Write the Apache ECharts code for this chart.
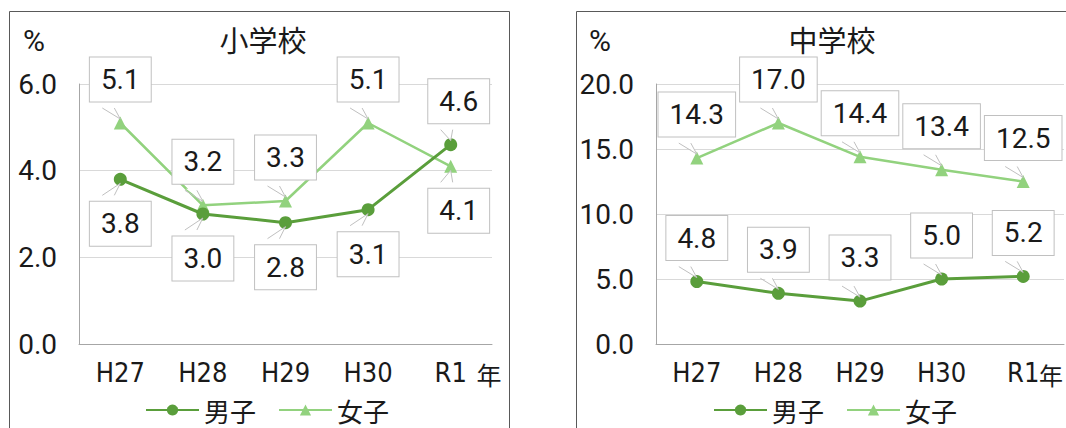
<!DOCTYPE html>
<html><head><meta charset="utf-8">
<script src="https://cdn.jsdelivr.net/npm/echarts@6/dist/echarts.min.js"></script>
<style>html,body{margin:0;padding:0;background:#fff}#c{width:1066px;height:428px}</style>
</head><body><div id="c"></div>
<script>
const categories = ['H27','H28','H29','H30','R1'];
const elemBoys  = [3.8, 3.0, 2.8, 3.1, 4.6];
const elemGirls = [5.1, 3.2, 3.3, 5.1, 4.1];
const juniorBoys  = [4.8, 3.9, 3.3, 5.0, 5.2];
const juniorGirls = [14.3, 17.0, 14.4, 13.4, 12.5];
const elemTicks = [0, 6, 2];
const juniorTicks = [0, 20, 5];

// label placement (style only)
const elemBoysPos  = ['bottom','bottom','bottom','bottom','top'];
const elemGirlsPos = ['top','top','top','top','bottom'];
const allTop = ['top','top','top','top','top'];
const elemShift = [0,0,0,0,8];
const noShift = [0,0,0,0,0];

const NUM_FONT = '"DejaVu Sans Condensed","Roboto","Noto Sans",sans-serif';
const LBL_FONT = '"Roboto","Noto Sans",sans-serif';
const JP_FONT = '"Noto Sans CJK JP","Noto Sans",sans-serif';
const BOY = '#5a9e3b', GIRL = '#92d27e';
const BOX = '#c0c0c0';
const DIST_TOP = 15, DIST_BOTTOM = 16;

function mkData(vals, pos, xoff){
  return vals.map((v,i)=>{
    const p = pos[i];
    return {value:v, label:{position:p, distance: p==='top'?DIST_TOP:DIST_BOTTOM, offset:[xoff[i], 0]}};
  });
}
const labelStyle = {
  show:true, formatter:p=>p.value.toFixed(1), fontFamily:LBL_FONT, fontSize:28, lineHeight:28,
  color:'#1a1a1a', backgroundColor:'#fff', borderColor:BOX, borderWidth:1, padding:[8,11]
};

function series(name, vals, color, sym, xi, pos, xoff){
  return {
    name, type:'line', xAxisIndex:xi, yAxisIndex:xi, data:mkData(vals,pos,xoff),
    symbol:sym, symbolSize:13, showSymbol:true,
    lineStyle:{color, width: sym==='circle'?3:2.5}, itemStyle:{color},
    label:labelStyle, z: sym==='circle'?3:2
  };
}
// callout tails drawn from the library's coordinates of each value
function tails(vals, xi, pos, xoff){
  return {
    type:'custom', xAxisIndex:xi, yAxisIndex:xi, z:6, silent:true,
    data: vals.map((v,i)=>[i,v]),
    renderItem(params, api){
      const i = api.value(0);
      const pt = api.coord([i, api.value(1)]);
      const top = pos[i]==='top';
      const cx = pt[0] + xoff[i];
      const by = top ? pt[1]-DIST_TOP : pt[1]+DIST_BOTTOM;
      const tipY = top ? pt[1]-4 : pt[1]+4;
      const x1 = cx-18, x2 = cx-6;
      const inner = top ? by-1.5 : by+1.5;
      return {type:'group', children:[
        {type:'polygon', shape:{points:[[x1+1,inner],[x2-1,inner],[pt[0],tipY]]}, style:{fill:'#fff', stroke:null}},
        {type:'polyline', shape:{points:[[x1,by],[pt[0],tipY],[x2,by]]}, style:{fill:null, stroke:BOX, lineWidth:1}}
      ]};
    }
  };
}
function yAxis(t, idx){
  return {type:'value', gridIndex:idx, min:t[0], max:t[1], interval:t[2],
    axisLine:{show:true, lineStyle:{color:'#a6a6a6'}}, axisTick:{show:false},
    splitLine:{lineStyle:{color:'#d9d9d9'}},
    axisLabel:{formatter:v=>v.toFixed(1), fontFamily:LBL_FONT, fontSize:28, color:'#1a1a1a', margin:22}};
}
function xAxis(i){
  return {type:'category', gridIndex:i, data:categories, boundaryGap:true,
    axisLine:{lineStyle:{color:'#a6a6a6'}}, axisTick:{show:false},
    axisLabel:{fontFamily:NUM_FONT, fontSize:27, color:'#1a1a1a', margin:15}};
}
function legend(left){
  return {left, top:392, itemWidth:53, itemHeight:14, itemGap:22, data:['男子','女子'],
    textStyle:{fontFamily:JP_FONT, fontSize:26, color:'#1a1a1a'}, selectedMode:false};
}
function txt(x, y, s, font){
  return {type:'text', x, y, style:{text:s, textAlign:'center', textVerticalAlign:'middle', font, fill:'#1a1a1a'}};
}
const chart = echarts.init(document.getElementById('c'), null, {renderer:'svg'});
chart.setOption({
  animation:false,
  grid:[{left:79, top:84, width:413, height:260},{left:656, top:84, width:408, height:260}],
  xAxis:[xAxis(0), xAxis(1)],
  yAxis:[yAxis(elemTicks,0), yAxis(juniorTicks,1)],
  legend:[legend(140), legend(708)],
  graphic:[
    {type:'rect', shape:{x:9.5,y:11.5,width:500,height:440}, style:{fill:'none', stroke:'#595959', lineWidth:1}, silent:true},
    {type:'rect', shape:{x:576.5,y:11.5,width:520,height:440}, style:{fill:'none', stroke:'#595959', lineWidth:1}, silent:true},
    txt(263, 39, '小学校', '29px '+JP_FONT),
    txt(832, 39, '中学校', '29px '+JP_FONT),
    txt(34, 40, '%', '30px '+LBL_FONT),
    txt(600, 40, '%', '30px '+LBL_FONT),
    txt(489, 374, '年', '25px '+JP_FONT),
    txt(1051, 374, '年', '24px '+JP_FONT)
  ],
  series:[
    series('男子', elemBoys, BOY, 'circle', 0, elemBoysPos, elemShift),
    series('女子', elemGirls, GIRL, 'triangle', 0, elemGirlsPos, elemShift),
    series('男子', juniorBoys, BOY, 'circle', 1, allTop, noShift),
    series('女子', juniorGirls, GIRL, 'triangle', 1, allTop, noShift),
    tails(elemBoys, 0, elemBoysPos, elemShift),
    tails(elemGirls, 0, elemGirlsPos, elemShift),
    tails(juniorBoys, 1, allTop, noShift),
    tails(juniorGirls, 1, allTop, noShift)
  ]
});
</script></body></html>
